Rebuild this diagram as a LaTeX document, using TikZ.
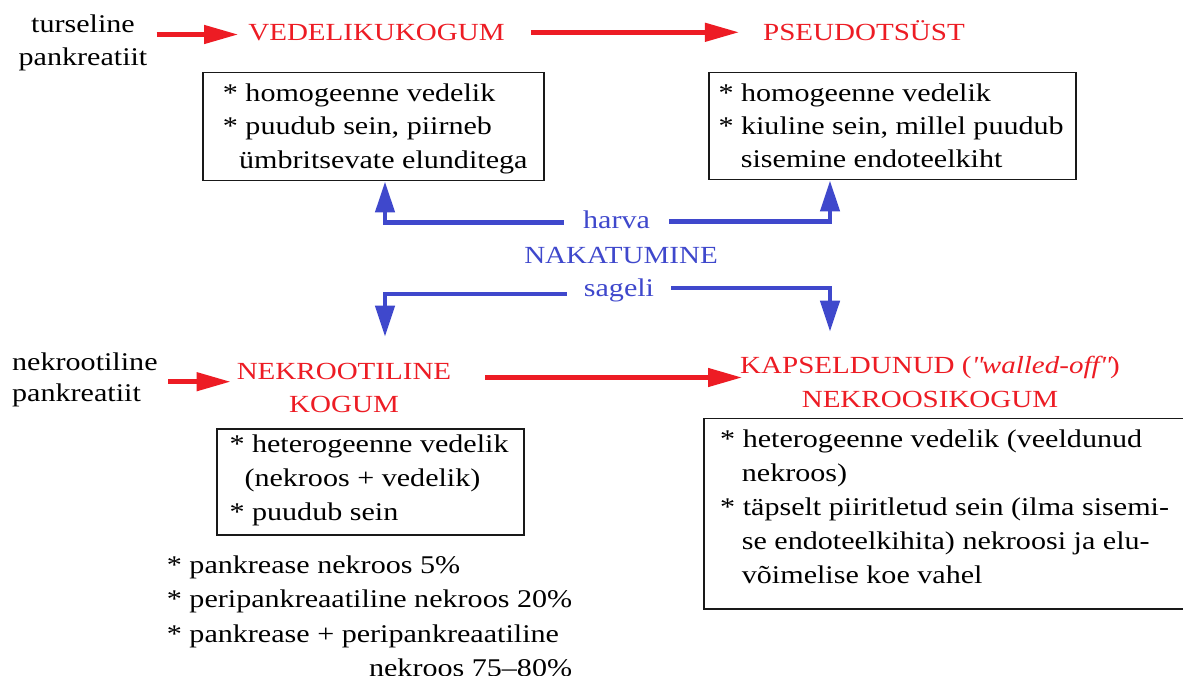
\documentclass[tikz,border=0pt]{standalone}
\usepackage{fontspec}
\setmainfont{Liberation Serif}[FakeStretch=1.18]
\usetikzlibrary{arrows.meta}
\definecolor{myred}{RGB}{237,28,36}
\definecolor{myblue}{RGB}{63,72,204}
\newcommand{\mylines}[3]{{\fontsize{#1}{#2}\selectfont\begin{tabular}[t]{@{}l@{}}#3\end{tabular}}}
\newcommand{\mycenter}[3]{{\fontsize{#1}{#2}\selectfont\begin{tabular}[t]{@{}c@{}}#3\end{tabular}}}
\begin{document}
\begin{tikzpicture}[x=1pt,y=-1pt,
  lbl/.style={inner sep=0pt, text=black},
  title/.style={inner xsep=10pt, inner ysep=0pt, text=myred},
  bl/.style={inner ysep=0pt, text=myblue},
  boxst/.style={draw=black!90, line width=1.5pt, inner sep=0pt, anchor=north west},
  ra/.style={draw=myred, line width=4.5pt, -{Triangle[length=34pt,width=18pt]}},
  ba/.style={draw=myblue, line width=4.5pt, -{Triangle[length=31pt,width=19pt]}},
]
\useasboundingbox (0,0) rectangle (1183,676);
\fill[white] (0,0) rectangle (1183,676);

% labels
\node[lbl, anchor=base] (tp) at (83,33) {\mycenter{25.5}{33}{turseline\\pankreatiit}};
\node[lbl, anchor=base west] (np) at (12,370) {\mylines{25.5}{32}{nekrootiline\\pankreatiit}};

% titles
\node[title, anchor=base] (vk) at (376.5,40.7) {\fontsize{24.6}{30}\selectfont VEDELIKUKOGUM};
\node[title, anchor=base] (ps) at (864,40.7) {\fontsize{24.6}{30}\selectfont PSEUDOTSÜST};
\node[title, anchor=base] (nk) at (344,379) {\mycenter{24.6}{33.7}{NEKROOTILINE\\KOGUM}};
\node[title, anchor=base] (kn) at (930,373) {\mycenter{24.6}{34}{KAPSELDUNUD (\textit{\textquotedbl walled-off\textquotedbl})\\NEKROOSIKOGUM}};

% boxes
\node[boxst, minimum width=341pt, minimum height=108pt] (b1) at (202,72) {};
\node[boxst, minimum width=367pt, minimum height=107pt] (b2) at (708,72) {};
\node[boxst, minimum width=307pt, minimum height=106pt] (b3) at (216,428.3) {};
\node[boxst, minimum width=490pt, minimum height=190.6pt] (b4) at (703.3,417.7) {};

% box texts
\node[lbl, anchor=base west] (t1) at (222.7,101.7) {\mylines{25.5}{33.3}{* homogeenne vedelik\\{}* puudub sein, piirneb\\\hspace*{16.3pt}ümbritsevate elunditega}};
\node[lbl, anchor=base west] (t2) at (718.3,102) {\mylines{25.5}{33}{* homogeenne vedelik\\{}* kiuline sein, millel puudub\\\hspace*{22.4pt}sisemine endoteelkiht}};
\node[lbl, anchor=base west] (t3) at (229.3,452.7) {\mylines{25.5}{34}{* heterogeenne vedelik\\\hspace*{15pt}(nekroos + vedelik)\\{}* puudub sein}};
\node[lbl, anchor=base west] (t4) at (720,447.3) {\mylines{25.5}{34}{* heterogeenne vedelik (veeldunud\\\hspace*{21.7pt}nekroos)\\{}* täpselt piiritletud sein (ilma sisemi-\\\hspace*{21.7pt}se endoteelkihita) nekroosi ja elu-\\\hspace*{21.7pt}võimelise koe vahel}};
\node[lbl, anchor=base west] (li) at (166.7,573) {{\fontsize{25.5}{34.5}\selectfont\begin{tabular}[t]{@{}l@{}}* pankrease nekroos 5\%\\{}* peripankreaatiline nekroos 20\%\\{}* pankrease + peripankreaatiline\\\multicolumn{1}{@{}r@{}}{nekroos 75--80\%}\end{tabular}}};

% middle blue texts
\node[bl, inner xsep=19pt, anchor=base] (hv) at (616.5,229) {\fontsize{25.5}{30}\selectfont harva};
\node[bl, inner xsep=0pt, anchor=base] (nak) at (621,264) {\fontsize{24.6}{30}\selectfont NAKATUMINE};
\node[bl, inner xsep=17pt, anchor=base] (sg) at (619,297) {\fontsize{25.5}{30}\selectfont sageli};

% red arrows
\draw[ra, shorten <=9pt] (tp.east |- 0,34.5) -- (vk.west |- 0,34.5);
\draw[ra, shorten <=16pt, shorten >=14pt] (vk.east |- 0,32.3) -- (ps.west |- 0,32.3);
\draw[ra, shorten <=10.7pt, shorten >=-4pt] (np.east |- 0,381.7) -- (nk.west |- 0,381.7);
\draw[ra, shorten <=24pt, shorten >=-12pt] (nk.east |- 0,377.5) -- (kn.west |- 0,377.5);

% blue connectors
\coordinate (d1) at (385,336.7);
\coordinate (d2) at (830,331.7);
\draw[ba] ([yshift=-2pt]hv.west) -| ([xshift=183pt]b1.south west);
\draw[ba] ([yshift=-1pt]hv.east) -| ([xshift=122pt]b2.south west);
\draw[ba] ([yshift=-3pt]sg.west) -| (d1);
\draw[ba] ([yshift=2.8pt]sg.east) -| (d2);
\end{tikzpicture}
\end{document}
